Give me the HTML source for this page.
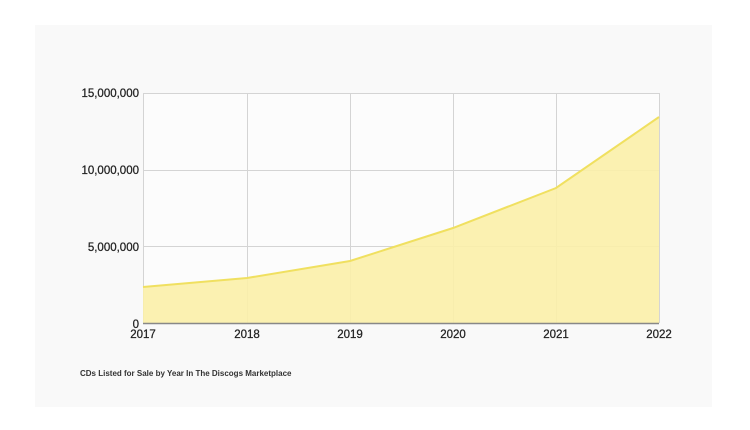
<!DOCTYPE html>
<html><head><style>
html,body{margin:0;padding:0;background:#fff;}
body{width:750px;height:430px;position:relative;overflow:hidden;font-family:"Liberation Sans",Arial,sans-serif;}
</style></head><body>
<svg width="750" height="430" xmlns="http://www.w3.org/2000/svg" style="position:absolute;left:0;top:0">
<rect x="35" y="25" width="677" height="382" fill="#f9f9f9"/>
<rect x="143" y="93" width="516" height="230" fill="#fcfcfc"/>
<g stroke="#d4d4d4" stroke-width="1">
<line x1="143" y1="93.5" x2="659" y2="93.5"/>
<line x1="143" y1="170.5" x2="659" y2="170.5"/>
<line x1="143" y1="246.5" x2="659" y2="246.5"/>
<line x1="143.5" y1="93" x2="143.5" y2="323"/>
<line x1="247.5" y1="93" x2="247.5" y2="323"/>
<line x1="350.5" y1="93" x2="350.5" y2="323"/>
<line x1="453.5" y1="93" x2="453.5" y2="323"/>
<line x1="556.5" y1="93" x2="556.5" y2="323"/>
<line x1="659.5" y1="93" x2="659.5" y2="323"/>
</g>
<path d="M143,287 L247,278 L350,261 L453,228 L556,188 L659,117 L659,323 L143,323 Z" fill="#fbf0a8" fill-opacity="0.9"/>
<path d="M143,287 L247,278 L350,261 L453,228 L556,188 L659,117" fill="none" stroke="#f0e060" stroke-width="2"/>
<line x1="143" y1="323.5" x2="659" y2="323.5" stroke="#888" stroke-width="1.5"/>
<g font-size="11.5" fill="#222" stroke="#222" stroke-width="0.25" text-anchor="end">
<text x="139" y="97">15,000,000</text>
<text x="139" y="174">10,000,000</text>
<text x="139" y="251">5,000,000</text>
<text x="139" y="328">0</text>
</g>
<g font-size="11.5" fill="#222" stroke="#222" stroke-width="0.25" text-anchor="middle">
<text x="143" y="338">2017</text>
<text x="247" y="338">2018</text>
<text x="350" y="338">2019</text>
<text x="453" y="338">2020</text>
<text x="556" y="338">2021</text>
<text x="659" y="338">2022</text>
</g>
<text x="80" y="376" font-size="8" font-weight="bold" fill="#333">CDs Listed for Sale by Year In The Discogs Marketplace</text>
</svg>
</body></html>
